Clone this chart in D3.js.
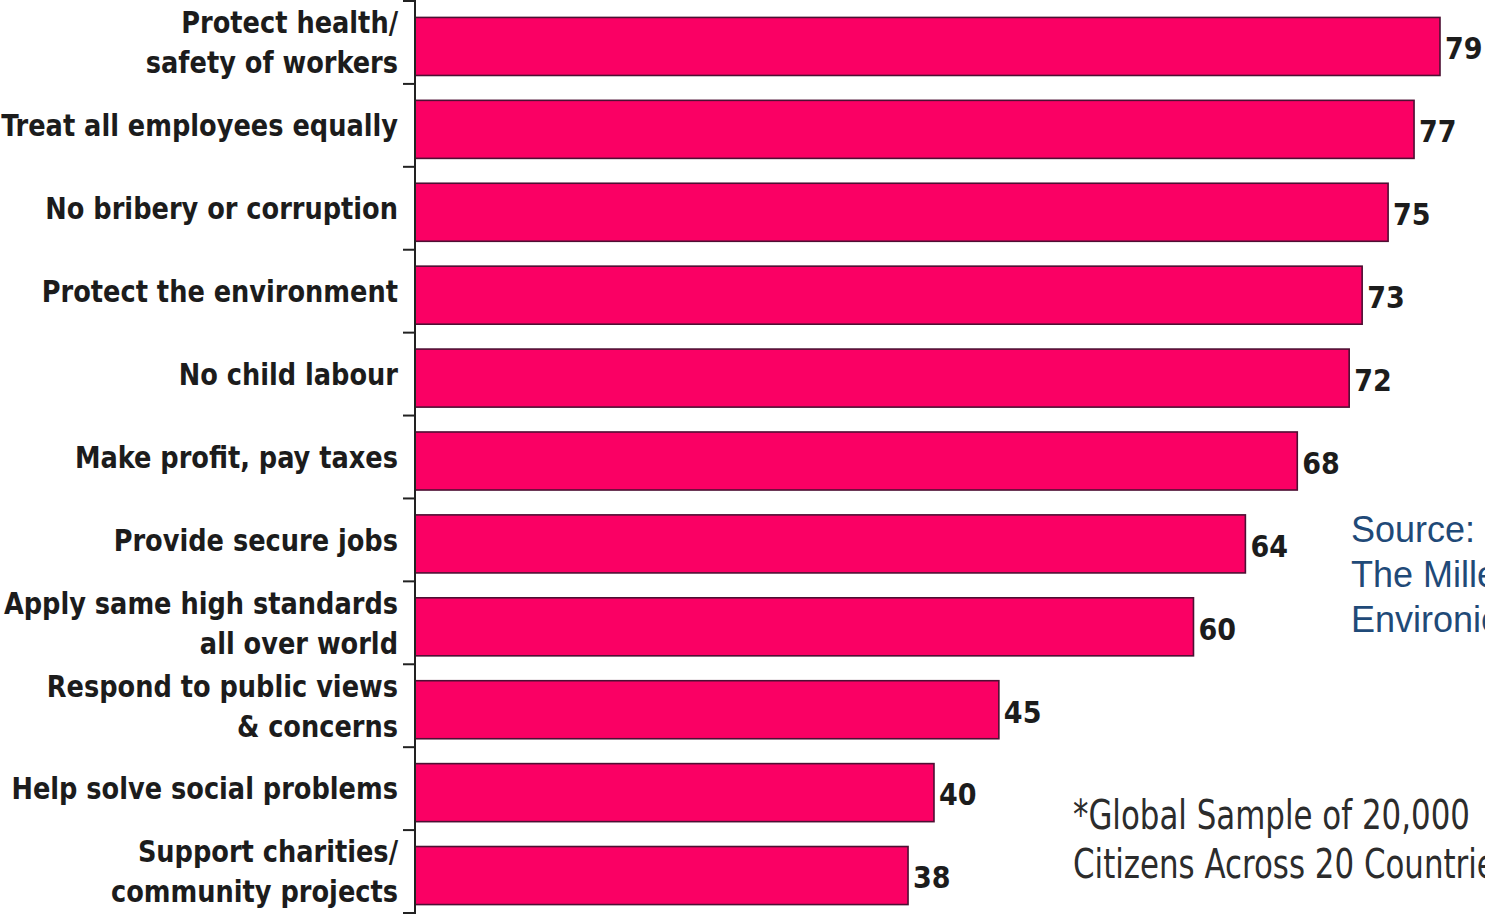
<!DOCTYPE html>
<html>
<head>
<meta charset="utf-8">
<script src="https://cdn.jsdelivr.net/npm/d3@7"></script>
<style>
  html, body { margin: 0; padding: 0; background: #fff; overflow: hidden; }
  svg { display: block; }
  .cat { font-family: "DejaVu Sans Condensed", "Liberation Sans", sans-serif; font-weight: bold; font-size: 30px; fill: #1c1c1c; }
  .val { font-family: "DejaVu Sans Condensed", "Liberation Sans", sans-serif; font-weight: bold; font-size: 30px; fill: #1c1c1c; }
  .src { font-family: "Liberation Sans", Arial, sans-serif; font-size: 36px; fill: #1f4a78; }
  .note { font-family: "DejaVu Sans Condensed", "Liberation Sans", sans-serif; font-size: 40px; fill: #2c2c2c; }
</style>
</head>
<body>
<svg id="chart" width="1485" height="914"></svg>
<script>
// 항목 (줄바꿈은 배열로)
var categories = [
  ["Protect health/", "safety of workers"],
  ["Treat all employees equally"],
  ["No bribery or corruption"],
  ["Protect the environment"],
  ["No child labour"],
  ["Make profit, pay taxes"],
  ["Provide secure jobs"],
  ["Apply same high standards", "all over world"],
  ["Respond to public views", "& concerns"],
  ["Help solve social problems"],
  ["Support charities/", "community projects"]
];
var values = [79, 77, 75, 73, 72, 68, 64, 60, 45, 40, 38];

var sourceLines = ["Source:", "The Millennium Poll on Corporate Social Responsibility", "Environics International"];
var noteLines = ["*Global Sample of 20,000", "Citizens Across 20 Countries"];

var svg = d3.select("#chart");
var axisX = 415;

// 척도
var keys = d3.range(values.length);
var y = d3.scaleBand().domain(keys).range([5, 917]).paddingInner(0.3).paddingOuter(0.15);
var x = d3.scaleLinear().domain([0, d3.max(values)]).range([axisX, 1440]);

// 막대
svg.selectAll("rect.bar")
  .data(values)
  .enter()
  .append("rect")
  .attr("class", "bar")
  .attr("x", x(0))
  .attr("y", function(d, i){ return y(i); })
  .attr("width", function(d){ return x(d) - x(0); })
  .attr("height", y.bandwidth())
  .attr("fill", "#fa0064")
  .attr("stroke", "#4d0f33")
  .attr("stroke-width", 1.6);

// 축선과 구분 눈금
svg.append("line")
  .attr("x1", axisX).attr("x2", axisX)
  .attr("y1", 0).attr("y2", 914)
  .attr("stroke", "#222").attr("stroke-width", 2);

var step = y.step();
var tickYs = keys.map(function(i){ return y(i) - step * 0.15 - 4; });
tickYs.push(tickYs[tickYs.length - 1] + step);
svg.selectAll("line.sep")
  .data(tickYs)
  .enter()
  .append("line")
  .attr("class", "sep")
  .attr("x1", axisX - 12).attr("x2", axisX)
  .attr("y1", function(d){ return d; }).attr("y2", function(d){ return d; })
  .attr("stroke", "#222").attr("stroke-width", 2);

// 항목 라벨 (좁은 글꼴 흉내: 가로 축소)
var labelRight = axisX - 17;
var catText = svg.selectAll("text.cat")
  .data(categories)
  .enter()
  .append("text")
  .attr("class", "cat")
  .attr("text-anchor", "end");
catText.selectAll("tspan")
  .data(function(d){ return d.map(function(t, j){ return {t: t, j: j, n: d.length}; }); })
  .enter()
  .append("tspan")
  .attr("x", 0)
  .attr("y", function(d){ return (d.j - (d.n - 1) / 2) * 40; })
  .attr("dy", "0.36em")
  .text(function(d){ return d.t; });

var maxW = d3.max(catText.selectAll("tspan").nodes(), function(n){ return n.getComputedTextLength(); });
var sx = 397 / maxW;
catText.attr("transform", function(d, i){
  return "translate(" + labelRight + "," + (y(i) + y.bandwidth() / 2 - 4) + ") scale(" + sx + ",1)";
});

// 값 라벨
svg.selectAll("text.val")
  .data(values)
  .enter()
  .append("text")
  .attr("class", "val")
  .attr("x", function(d){ return x(d) + 5; })
  .attr("y", function(d, i){ return y(i) + y.bandwidth() / 2 + 2; })
  .attr("dy", "0.36em")
  .text(function(d){ return d; });

// 출처
svg.selectAll("text.src")
  .data(sourceLines)
  .enter()
  .append("text")
  .attr("class", "src")
  .attr("x", 1351)
  .attr("y", function(d, i){ return 542 + i * 45; })
  .text(function(d){ return d; });

// 주석
var note = svg.append("text").attr("class", "note");
note.selectAll("tspan")
  .data(noteLines)
  .enter()
  .append("tspan")
  .attr("x", 0)
  .attr("y", function(d, i){ return i * 49; })
  .text(function(d){ return d; });
var noteW = note.select("tspan").node().getComputedTextLength();
note.attr("transform", "translate(1073,829) scale(" + (397 / noteW) + ",1)");
</script>
</body>
</html>
